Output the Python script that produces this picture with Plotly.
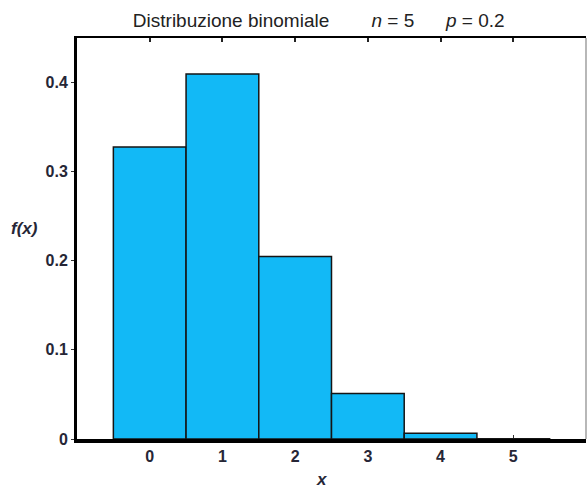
import plotly.graph_objects as go

x_values = [0, 1, 2, 3, 4, 5]
probabilities = [0.32768, 0.4096, 0.2048, 0.0512, 0.0064, 0.00032]
x_tick_labels = ["0", "1", "2", "3", "4", "5"]
y_tick_values = [0, 0.1, 0.2, 0.3, 0.4]
y_tick_labels = ["0", "0.1", "0.2", "0.3", "0.4"]

font_fam = "Liberation Sans, Arial, sans-serif"
label_color = "#262636"

fig = go.Figure()
fig.add_trace(go.Bar(
    x=x_values, y=probabilities, width=1,
    marker=dict(color="#12B9F6", line=dict(color="#151515", width=1.5)),
    showlegend=False,
))
# invisible trace for the top axis
fig.add_trace(go.Scatter(x=x_values, y=[None] * len(x_values), xaxis="x2",
                         showlegend=False, hoverinfo="skip"))

fig.update_layout(
    width=587, height=494,
    margin=dict(l=77, r=1, t=38, b=55, pad=0),
    plot_bgcolor="white", paper_bgcolor="white",
    title=dict(
        text="Distribuzione binomiale        <i>n</i> = 5      <i>p</i> = 0.2",
        x=0.543, xanchor="center", y=0.9595, yanchor="middle",
        font=dict(family=font_fam, size=19, color="#222222"),
    ),
    xaxis=dict(
        range=[-1, 6], tickvals=x_values, ticktext=x_tick_labels,
        ticks="inside", ticklen=4, tickwidth=1, tickcolor="#333",
        showline=True, linecolor="black", linewidth=3.5,
        showgrid=False, zeroline=False, layer="below traces",
        tickfont=dict(family=font_fam, size=16, color=label_color, weight="bold"),
    ),
    xaxis2=dict(
        overlaying="x", side="top", matches="x",
        range=[-1, 6], tickvals=x_values, showticklabels=False,
        ticks="inside", ticklen=4, tickwidth=1.5, tickcolor="#222",
        showline=True, linecolor="black", linewidth=1.5,
        showgrid=False, zeroline=False,
    ),
    yaxis=dict(
        range=[0, 0.45], tickvals=y_tick_values, ticktext=y_tick_labels,
        ticks="outside", ticklen=3, tickwidth=1, tickcolor="#333",
        showline=True, linecolor="black", linewidth=3,
        showgrid=False, zeroline=False,
        tickfont=dict(family=font_fam, size=16, color=label_color, weight="bold"),
    ),
    annotations=[
        dict(text="<i><b>f(x)</b></i>", xref="paper", yref="paper", x=-0.104, y=0.524,
             xanchor="center", yanchor="middle",
             showarrow=False, font=dict(family=font_fam, size=17, color=label_color)),
        dict(text="<i><b>x</b></i>", xref="paper", yref="paper", x=0.481, y=-0.0998,
             xanchor="center", yanchor="middle",
             showarrow=False, font=dict(family=font_fam, size=17, color=label_color)),
    ],
    shapes=[
        dict(type="line", xref="paper", yref="paper", x0=1, x1=1, y0=0, y1=1,
             line=dict(color="#888888", width=1.2)),
    ],
)

fig.write_html(
    "out.html",
    config={"displayModeBar": False},
    post_script="document.body.style.margin='0';document.body.style.overflow='hidden';",
)
